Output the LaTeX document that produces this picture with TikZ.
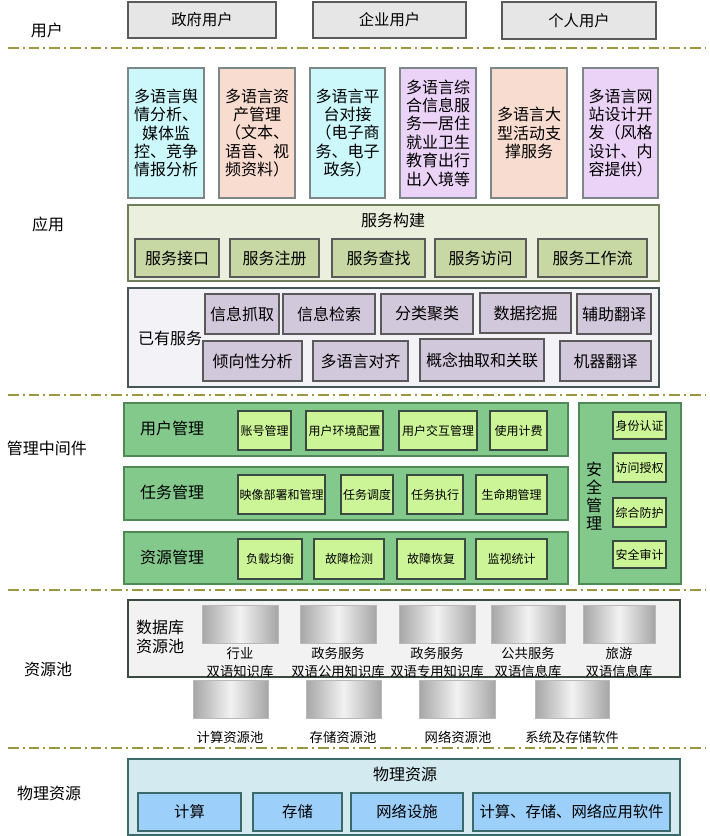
\documentclass[tikz,border=0pt]{standalone}
\usepackage{fontspec}
\setmainfont{Noto Sans CJK SC}

\definecolor{usrfill}{RGB}{230,230,230}
\definecolor{usrline}{RGB}{90,90,90}
\definecolor{appcyan}{RGB}{204,248,252}
\definecolor{apppeach}{RGB}{249,220,208}
\definecolor{applav}{RGB}{235,210,247}
\definecolor{appline}{RGB}{125,135,135}
\definecolor{buildfill}{RGB}{235,239,221}
\definecolor{buildline}{RGB}{110,125,90}
\definecolor{buildsub}{RGB}{200,216,164}
\definecolor{existfill}{RGB}{243,242,246}
\definecolor{existline}{RGB}{70,85,85}
\definecolor{existsub}{RGB}{210,200,220}
\definecolor{midfill}{RGB}{132,201,140}
\definecolor{midline}{RGB}{79,138,86}
\definecolor{midsub}{RGB}{204,245,152}
\definecolor{dbfill}{RGB}{242,242,242}
\definecolor{dbline}{RGB}{58,74,64}
\definecolor{physfill}{RGB}{211,235,240}
\definecolor{physline}{RGB}{58,106,106}
\definecolor{physsub}{RGB}{156,207,250}
\definecolor{sepcol}{RGB}{156,150,64}

\begin{document}
\begin{tikzpicture}[x=0.75pt,y=0.75pt,yscale=-1,xscale=1,
  every node/.style={font=\fontsize{12}{14}\selectfont},
  cell/.style n args={4}{at={({(#1+#3)/2},{(#2+#4)/2})}, minimum width={(#3-#1)*0.75pt}, minimum height={(#4-#2)*0.75pt}},
  blk/.style={draw, inner sep=0pt, line width=0.8pt, align=center},
  userbox/.style={blk, draw=usrline, fill=usrfill, line width=1.1pt, font=\fontsize{11.5}{14}\selectfont},
  appbox/.style={blk, draw=appline, fill=#1, font=\fontsize{12}{13.8}\selectfont},
  buildbox/.style={blk, draw=buildline, fill=buildfill},
  buildsvc/.style={blk, draw=usrline, fill=buildsub},
  existbox/.style={blk, draw=existline, fill=existfill},
  existsvc/.style={blk, draw=usrline, fill=existsub},
  midbox/.style={blk, draw=midline, fill=midfill},
  midsvc/.style={blk, draw=dbline, fill=midsub, font=\fontsize{9}{11}\selectfont},
  dbbox/.style={blk, draw=dbline, fill=dbfill},
  dbimg/.style={inner sep=0pt, draw=gray!55, left color=gray!70, right color=gray!70, middle color=gray!10},
  dbtext/.style={align=center, font=\fontsize{10}{13.5}\selectfont},
  physbox/.style={blk, draw=physline, fill=physfill},
  physsvc/.style={blk, draw=physline, fill=physsub, font=\fontsize{11.5}{14}\selectfont},
  sepline/.style={draw=sepcol, line width=1.5pt, dash pattern=on 8pt off 3pt on 1.5pt off 3pt}
]
\useasboundingbox (0,0) rectangle (710,836);

%% layer labels
\node (lyuser) at (47,30) {用户};
\node (lyapp) at (48,224) {应用};
\node (lymid) at (47,448) {管理中间件};
\node (lypool) at (48,669) {资源池};
\node (lyphys) at (49,793) {物理资源};

%% separators
\draw[sepline] (8,48) -- (706,48);
\draw[sepline] (8,395) -- (706,395);
\draw[sepline] (8,590) -- (706,590);
\draw[sepline] (8,748) -- (706,748);

%% users
\node[userbox, cell={128}{2}{276}{38}] (gov) {政府用户};
\node[userbox, cell={313}{2}{466}{38}] (ent) {企业用户};
\node[userbox, cell={502}{2}{656}{39}] (per) {个人用户};

%% applications
\node[appbox=appcyan, cell={128}{68}{204}{198}] (yuqing) {多语言舆\\情分析、\\媒体监\\控、竞争\\情报分析};
\node[appbox=apppeach, cell={219}{68}{295}{198}] (zichan) {多语言资\\产管理\\（文本、\\语音、视\\频资料）};
\node[appbox=appcyan, cell={310}{68}{385}{198}] (duijie) {多语言平\\台对接\\（电子商\\务、电子\\政务）};
\node[appbox=applav, cell={400}{68}{476}{198}] (zonghe) {多语言综\\合信息服\\务一居住\\就业卫生\\教育出行\\出入境等};
\node[appbox=apppeach, cell={491}{68}{567}{198}] (huodong) {多语言大\\型活动支\\撑服务};
\node[appbox=applav, cell={583}{68}{658}{198}] (wangzhan) {多语言网\\站设计开\\发（风格\\设计、内\\容提供）};

%% service building
\node[buildbox, cell={128}{205}{659}{281}] (fwgj) {};
\node (fwgjt) at (393,220) {服务构建};
\node[buildsvc, cell={135}{239}{219}{277}] (jiekou) {服务接口};
\node[buildsvc, cell={230}{239}{319}{277}] (zhuce) {服务注册};
\node[buildsvc, cell={332}{239}{425}{277}] (chazhao) {服务查找};
\node[buildsvc, cell={435}{239}{526}{277}] (fangwen) {服务访问};
\node[buildsvc, cell={538}{239}{647}{277}] (gzl) {服务工作流};

%% existing services
\node[existbox, cell={128}{288}{659}{387}] (yyfw) {};
\node (yyfwt) at (170,338) {已有服务};
\node[existsvc, cell={205}{294}{279}{334}] (zhuaqu) {信息抓取};
\node[existsvc, cell={283}{294}{375}{334}] (jiansuo) {信息检索};
\node[existsvc, cell={381}{294}{473}{334}] (julei) {分类聚类};
\node[existsvc, cell={480}{293}{571}{333}] (wajue) {数据挖掘};
\node[existsvc, cell={577}{294}{651}{334}] (fuzhu) {辅助翻译};
\node[existsvc, cell={203}{341}{302}{381}] (qingxiang) {倾向性分析};
\node[existsvc, cell={313}{341}{408}{381}] (duiqi) {多语言对齐};
\node[existsvc, cell={420}{339}{544}{381}] (gainian) {概念抽取和关联};
\node[existsvc, cell={560}{341}{651}{381}] (jiqi) {机器翻译};

%% middleware
\node[midbox, cell={124}{403}{568}{456}] (yhgl) {};
\node (yhglt) at (172,428) {用户管理};
\node[midsvc, cell={238}{411}{291}{450}] (zhanghao) {账号管理};
\node[midsvc, cell={306}{411}{383}{450}] (huanjing) {用户环境配置};
\node[midsvc, cell={399}{411}{477}{450}] (jiaohu) {用户交互管理};
\node[midsvc, cell={490}{411}{547}{450}] (jifei) {使用计费};

\node[midbox, cell={124}{467}{568}{520}] (rwgl) {};
\node (rwglt) at (172,492) {任务管理};
\node[midsvc, cell={238}{475}{325}{514}] (yingxiang) {映像部署和管理};
\node[midsvc, cell={341}{475}{393}{514}] (diaodu) {任务调度};
\node[midsvc, cell={407}{475}{463}{514}] (zhixing) {任务执行};
\node[midsvc, cell={476}{475}{547}{514}] (smq) {生命期管理};

\node[midbox, cell={124}{532}{568}{584}] (zygl) {};
\node (zyglt) at (172,557) {资源管理};
\node[midsvc, cell={238}{539}{302}{579}] (fuzai) {负载均衡};
\node[midsvc, cell={314}{539}{384}{579}] (jiance) {故障检测};
\node[midsvc, cell={397}{539}{465}{579}] (huifu) {故障恢复};
\node[midsvc, cell={476}{539}{547}{579}] (jianshi) {监视统计};

\node[midbox, cell={579}{403}{681}{584}] (aqgl) {};
\node[align=center, font=\fontsize{12}{13.5}\selectfont] (aqglt) at (594,496) {安\\全\\管\\理};
\node[midsvc, cell={613}{412}{666}{439}] (renzheng) {身份认证};
\node[midsvc, cell={613}{453}{666}{482}] (shouquan) {访问授权};
\node[midsvc, cell={613}{498}{666}{527}] (fanghu) {综合防护};
\node[midsvc, cell={613}{541}{666}{568}] (shenji) {安全审计};

%% resource pools
\node[dbbox, cell={128}{600}{680}{677}] (dbpool) {};
\node[align=center, font=\fontsize{12}{14.3}\selectfont] (dbpoolt) at (160,637) {数据库\\资源池};
\node[dbimg, cell={202}{605}{278}{643}] (dbhy) {};
\node[dbimg, cell={300}{605}{376}{643}] (dbgy) {};
\node[dbimg, cell={399}{605}{475}{643}] (dbzy) {};
\node[dbimg, cell={491}{605}{565}{643}] (dbgg) {};
\node[dbimg, cell={583}{605}{655}{643}] (dbly) {};
\node[dbtext] (dbhyt) at (240,662) {行业\\双语知识库};
\node[dbtext] (dbgyt) at (338,662) {政务服务\\双语公用知识库};
\node[dbtext] (dbzyt) at (437,662) {政务服务\\双语专用知识库};
\node[dbtext] (dbggt) at (528,662) {公共服务\\双语信息库};
\node[dbtext] (dblyt) at (619,662) {旅游\\双语信息库};

\node[dbimg, cell={193}{680}{268}{718}] (jsc) {};
\node[dbimg, cell={306}{680}{381}{718}] (ccc) {};
\node[dbimg, cell={419}{680}{495}{718}] (wlc) {};
\node[dbimg, cell={535}{680}{609}{718}] (xtc) {};
\node[dbtext] (jsct) at (230,737) {计算资源池};
\node[dbtext] (ccct) at (343,737) {存储资源池};
\node[dbtext] (wlct) at (458,737) {网络资源池};
\node[dbtext] (xtct) at (572,737) {系统及存储软件};

%% physical resources
\node[physbox, cell={128}{759}{680}{835}] (wlzy) {};
\node (wlzyt) at (405,774) {物理资源};
\node[physsvc, cell={138}{793}{241}{831}] (jisuan) {计算};
\node[physsvc, cell={253}{793}{342}{831}] (cunchu) {存储};
\node[physsvc, cell={351}{793}{463}{831}] (sheshi) {网络设施};
\node[physsvc, cell={473}{793}{670}{831}] (ruanjian) {计算、存储、网络应用软件};

\end{tikzpicture}
\end{document}
